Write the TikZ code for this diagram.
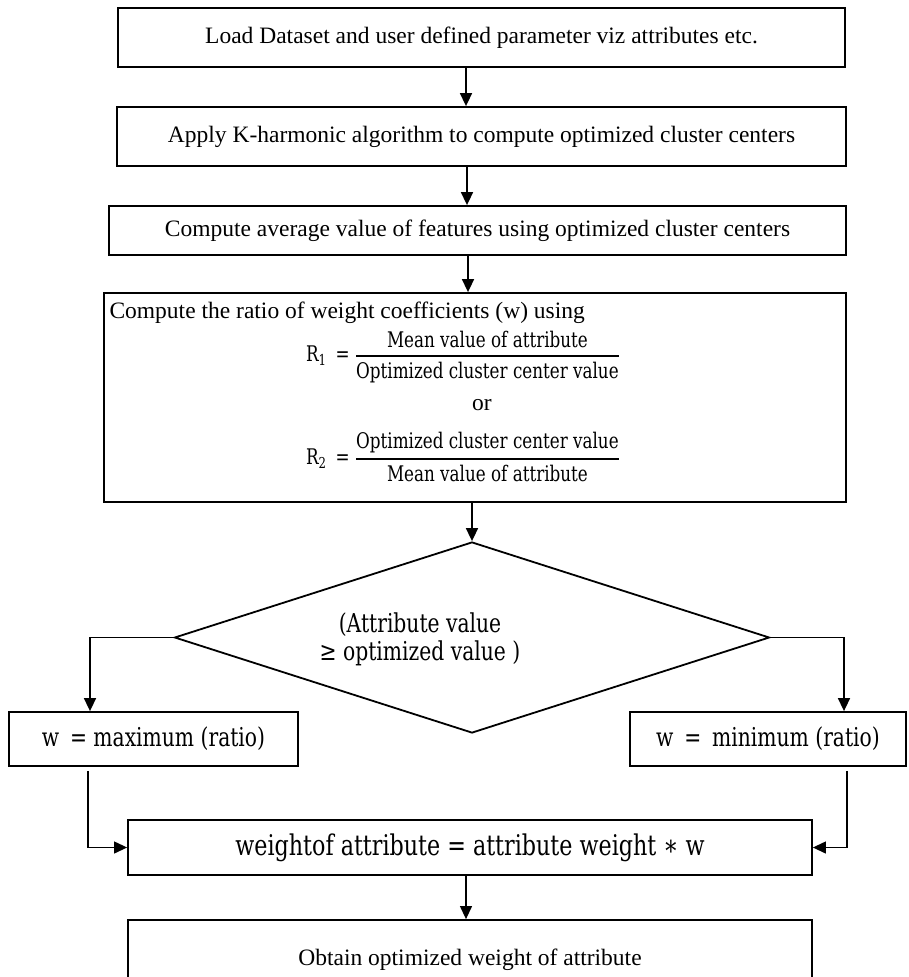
\documentclass[tikz,border=0pt]{standalone}
\usepackage{fontspec}
\usepackage{amsmath}
\setmainfont{Liberation Serif}
\newfontfamily\cmbfont{DejaVu Serif}[FakeStretch=0.78]
\usetikzlibrary{shapes.geometric,arrows.meta}

\newcommand\tmsize{\fontsize{23.5}{27}\selectfont}
\newcommand\cmbsize[1]{\cmbfont\fontsize{#1}{27}\selectfont}
% a fraction with a heavier bar
\newcommand\heavyfrac[2]{\genfrac{}{}{1.7pt}{0}{\mbox{#1}}{\mbox{#2}}}

\tikzset{
  stepbox/.style={draw, line width=1.8pt, inner sep=0pt, font=\tmsize},
  flowarr/.style={line width=1.6pt, -{Triangle[length=13pt,width=12pt]}},
  thinarr/.style={line width=1.2pt, -{Triangle[length=13pt,width=12pt]}},
}

\begin{document}
\begin{tikzpicture}[x=1pt,y=-1pt]
\useasboundingbox (0,0) rectangle (908,977);

% main column of process boxes
\node[stepbox, minimum width=727pt, minimum height=59pt] (load) at (481.5,37.5)
  {Load Dataset and user defined parameter viz attributes etc.};
\node[stepbox, minimum width=729pt, minimum height=59pt] (kharm) at (481.5,136.5)
  {Apply K-harmonic algorithm to compute optimized cluster centers};
\node[stepbox, minimum width=737pt, minimum height=49pt] (avg) at (477.5,230.5)
  {Compute average value of features using optimized cluster centers};
\node[stepbox, minimum width=742pt, minimum height=209pt] (ratio) at (475,397.5) {};

% contents of the ratio box
\node[anchor=west, font=\tmsize] (ratiotxt) at (106,313)
  {Compute the ratio of weight coefficients (w) using};
\node[font=\cmbsize{21.5}] (rone) at (463,357)
  {R$_{\mbox{\cmbfont\fontsize{15}{17}\selectfont 1}}$ \,= $\heavyfrac{Mean value of attribute}{Optimized cluster center value}$};
\node[font=\tmsize] (ortxt) at (482,405) {or};
\node[font=\cmbsize{21.5}] (rtwo) at (463,457)
  {R$_{\mbox{\cmbfont\fontsize{15}{17}\selectfont 2}}$ \,= $\heavyfrac{Optimized cluster center value}{Mean value of attribute}$};

% decision
\node[diamond, draw, line width=1.8pt, inner sep=0pt,
      minimum width=595pt, minimum height=191pt] (cond) at (472,637.5) {};
\node[font=\cmbsize{26}, align=center] (condtxt) at (420,639)
  {(Attribute value\\[1pt] ≥ optimized value )};

% branch results
\node[stepbox, font=\cmbsize{26}, minimum width=289pt, minimum height=54pt] (wmax) at (153.5,739)
  {w \,= maximum (ratio)};
\node[stepbox, font=\cmbsize{26}, minimum width=276pt, minimum height=54pt] (wmin) at (768,739)
  {w \,= \,minimum (ratio)};

% weighting and result
\node[stepbox, font=\cmbsize{28.5}, minimum width=684pt, minimum height=55pt] (wt) at (470,847.5)
  {weightof attribute = attribute weight ∗ w};
\node[stepbox, minimum width=684pt, minimum height=80pt] (final) at (470,960)
  {Obtain optimized weight of attribute};

% connector columns
\coordinate (sa) at (466,0);
\coordinate (sb) at (467,0);
\coordinate (sc) at (468,0);
\coordinate (lx) at (90,0);
\coordinate (rx) at (844,0);
\coordinate (lx2) at (88,0);
\coordinate (rx2) at (847,0);

\draw[flowarr] (load.south -| sa) -- (kharm.north -| sa);
\draw[flowarr] (kharm.south -| sb) -- (avg.north -| sb);
\draw[flowarr] (avg.south -| sc) -- (ratio.north -| sc);
\draw[flowarr] (ratio.south -| cond.north) -- (cond.north);
\draw[flowarr] (cond.west) -| (wmax.north -| lx);
\draw[flowarr] (cond.east) -| (wmin.north -| rx);
\draw[thinarr] ([yshift=-4pt]wmax.south -| lx2) |- (wt.west);
\draw[thinarr] ([yshift=-4pt]wmin.south -| rx2) |- (wt.east);
\draw[thinarr] (wt.south -| sa) -- (final.north -| sa);
\end{tikzpicture}
\end{document}
